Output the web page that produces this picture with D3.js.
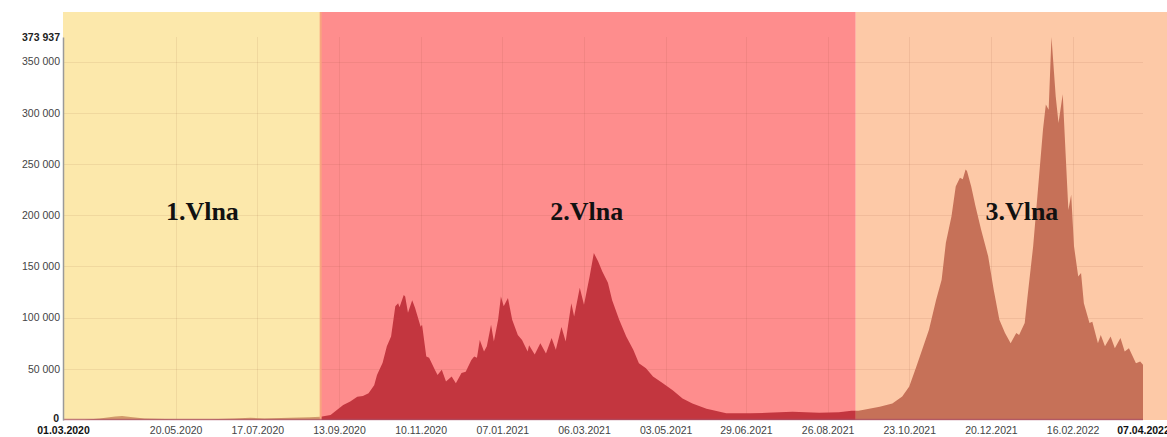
<!DOCTYPE html>
<html><head><meta charset="utf-8">
<script src="https://cdn.jsdelivr.net/npm/d3@7"></script>
<style>html,body{margin:0;padding:0;background:#fff;}svg{display:block;}</style>
</head><body><svg id="chart" width="1167" height="437"></svg>
<script>
// ---- data ----
const dates = [
"2020-03-01","2020-03-16","2020-03-27","2020-04-07","2020-04-12","2020-04-18","2020-04-28","2020-05-20","2020-06-13","2020-07-01","2020-07-12","2020-07-22","2020-08-09","2020-08-23","2020-08-31",
"2020-09-01","2020-09-07","2020-09-16","2020-09-21","2020-09-26","2020-09-30","2020-10-04","2020-10-08","2020-10-10","2020-10-14","2020-10-17","2020-10-20","2020-10-23","2020-10-25","2020-10-26","2020-10-29","2020-10-30","2020-11-01","2020-11-04","2020-11-06","2020-11-10","2020-11-11","2020-11-14","2020-11-16","2020-11-20","2020-11-22","2020-11-25","2020-11-28","2020-12-02","2020-12-05","2020-12-09","2020-12-12","2020-12-16","2020-12-18","2020-12-20","2020-12-22","2020-12-25","2020-12-27","2020-12-30",
"2021-01-01","2021-01-04","2021-01-06","2021-01-08","2021-01-11","2021-01-14","2021-01-18","2021-01-21","2021-01-25","2021-01-26","2021-01-30","2021-02-03","2021-02-07","2021-02-11","2021-02-14","2021-02-18","2021-02-21","2021-02-25","2021-02-27","2021-03-03","2021-03-06","2021-03-10","2021-03-13","2021-03-16","2021-03-19","2021-03-23","2021-03-26","2021-03-31","2021-04-05","2021-04-10","2021-04-14","2021-04-19","2021-04-24","2021-05-01","2021-05-08","2021-05-15","2021-05-22","2021-06-01","2021-06-05","2021-06-15","2021-07-02","2021-07-14","2021-08-01","2021-08-20","2021-09-03","2021-09-12","2021-09-17",
"2021-10-02","2021-10-11","2021-10-18","2021-10-23","2021-10-28","2021-11-02","2021-11-06","2021-11-11","2021-11-15","2021-11-18","2021-11-22","2021-11-25","2021-11-28","2021-11-30","2021-12-02","2021-12-03","2021-12-06","2021-12-09","2021-12-13","2021-12-18","2021-12-22","2021-12-26","2021-12-30",
"2022-01-03","2022-01-07","2022-01-09","2022-01-13","2022-01-15","2022-01-19","2022-01-22","2022-01-26","2022-01-28","2022-01-30","2022-02-01","2022-02-04","2022-02-06","2022-02-09","2022-02-11","2022-02-13","2022-02-15","2022-02-17","2022-02-20","2022-02-22","2022-02-24","2022-02-28","2022-03-02","2022-03-06","2022-03-08","2022-03-11","2022-03-15","2022-03-18","2022-03-22","2022-03-25","2022-03-28","2022-04-02","2022-04-05","2022-04-07"
];
const values = [
0,300,1500,3500,4000,3000,1500,800,700,1500,2200,1500,2200,2800,3200,
3500,5000,14700,18000,22800,23500,26000,34000,44000,56000,72000,81500,111000,114000,110000,122000,120600,104600,117000,109600,91000,93000,62000,60700,49400,44000,49000,37500,42400,36000,46000,47000,58700,62000,60700,78000,67000,72000,93000,
76600,98000,120600,111000,119000,98000,83000,78000,67000,73000,64000,75000,65000,80000,68500,90700,76600,114000,101000,129000,112500,140000,163000,155000,145000,134000,117000,98000,81500,68500,55500,50600,42400,36000,29000,21000,16000,11000,9800,6500,6500,7000,8000,7000,7500,9000,9000,
13000,16000,23000,32600,52000,72000,88000,117000,137000,173000,199000,228000,236500,235000,244600,243000,228000,209000,186000,160000,127000,98000,85000,
75000,85000,83000,94600,120600,169600,218500,283800,308000,303000,373937,316000,290000,318000,261000,205000,220000,169600,140000,143600,114000,94600,96000,75000,83000,72000,81500,70000,80000,67000,70000,55500,57000,54000
];
const xTicks = ["2020-05-20","2020-07-17","2020-09-13","2020-11-10","2021-01-07","2021-03-06","2021-05-03","2021-06-29","2021-08-26","2021-10-23","2021-12-20","2022-02-16"];
const xEnds = ["2020-03-01","2022-04-07"];
const yTicks = [50000,100000,150000,200000,250000,300000,350000];
const yMax = 373937;
const waveNames = ["1.Vlna","2.Vlna","3.Vlna"];
const waveStarts = ["2020-03-01","2020-08-31","2021-09-15"];
const waveEnds = ["2020-08-31","2021-09-15",null];
const waveLabelDates = ["2020-06-08","2021-03-08","2022-01-11"];
const waveLabelValue = 195000;
const waveBg = ["#FCE8AB","#FE8D8D","#FDC9A7"];
const waveArea = ["#D29A6A","#C3363F","#C67158"];

// ---- chart ----
const W = 1167, H = 437;
const parse = d3.utcParse("%Y-%m-%d");
const fmtDate = d3.utcFormat("%d.%m.%Y");
const loc = d3.formatLocale({decimal:",",thousands:" ",grouping:[3],currency:["",""]});
const fmtNum = loc.format(",");
const svg = d3.select("#chart");
const x = d3.scaleUtc().domain([parse(xEnds[0]), parse(xEnds[1])]).range([63, 1143]);
const y = d3.scaleLinear().domain([0, yMax]).range([420, 37]);
const data = dates.map((d,i)=>({date:parse(d), value:values[i]}));
const bandTop = 12;

// bands
const bands = waveNames.map((n,i)=>({
  name:n, x0:x(parse(waveStarts[i])), x1: waveEnds[i] ? x(parse(waveEnds[i])) : W,
  bg:waveBg[i], area:waveArea[i], lx:x(parse(waveLabelDates[i]))
}));
svg.append("g").selectAll("rect").data(bands).join("rect")
  .attr("x",d=>d.x0).attr("y",bandTop).attr("width",d=>d.x1-d.x0).attr("height",y(0)-bandTop)
  .attr("fill",d=>d.bg);

// gridlines
const grid = svg.append("g").attr("stroke","rgba(120,60,30,0.09)").attr("stroke-width",1);
grid.selectAll("line.h").data(yTicks).join("line").attr("class","h")
  .attr("x1",x.range()[0]).attr("x2",x.range()[1]).attr("y1",d=>Math.round(y(d))+0.5).attr("y2",d=>Math.round(y(d))+0.5);
grid.selectAll("line.v").data(xTicks).join("line").attr("class","v")
  .attr("x1",d=>Math.round(x(parse(d)))+0.5).attr("x2",d=>Math.round(x(parse(d)))+0.5).attr("y1",y(yMax)).attr("y2",y(0));

// area clipped per band
const area = d3.area().x(d=>x(d.date)).y0(y(0)).y1(d=>y(d.value)).curve(d3.curveLinear);
const defs = svg.append("defs");
bands.forEach((b,i)=>{
  defs.append("clipPath").attr("id","clip"+i).append("rect")
    .attr("x",b.x0).attr("y",0).attr("width",b.x1-b.x0).attr("height",H);
  svg.append("path").datum(data).attr("d",area).attr("fill",b.area).attr("clip-path",`url(#clip${i})`);
});

// band boundary stripe
svg.append("line").attr("x1",bands[1].x0).attr("x2",bands[1].x0).attr("y1",bandTop).attr("y2",y(0))
  .attr("stroke","#F8A47E").attr("stroke-width",2);

// baseline
svg.append("line").attr("x1",x.range()[0]).attr("x2",x.range()[1]).attr("y1",y(0)-0.5).attr("y2",y(0)-0.5)
  .attr("stroke","#A9506A").attr("stroke-opacity",0.7).attr("stroke-width",1.5);

// y axis
const yAxis = svg.append("g").attr("transform",`translate(${x.range()[0]},0)`)
  .call(d3.axisLeft(y).tickValues([0,...yTicks,yMax]).tickSize(0).tickPadding(3).tickFormat(fmtNum));
yAxis.select(".domain").attr("stroke","#9a9a9a").attr("stroke-width",1.5);
yAxis.selectAll("text").attr("font-family","'Liberation Sans',Arial,sans-serif").attr("font-size",10.5)
  .attr("fill",d=> (d===0||d===yMax)?"#222":"#444").attr("font-weight",d=>(d===0||d===yMax)?"bold":"normal");
yAxis.selectAll(".tick").filter(d=>d===0).select("text").attr("dy","0.1em").attr("x",-4);

// x axis
const xAxis = svg.append("g").attr("transform",`translate(0,${y(0)})`)
  .call(d3.axisBottom(x).tickValues([...xEnds,...xTicks].map(parse)).tickSize(0).tickPadding(7).tickFormat(fmtDate));
xAxis.select(".domain").remove();
const endSet = new Set(xEnds.map(d=>parse(d).getTime()));
xAxis.selectAll("text").attr("font-family","'Liberation Sans',Arial,sans-serif").attr("font-size",10.5)
  .attr("fill",d=>endSet.has(d.getTime())?"#111":"#444")
  .attr("font-weight",d=>endSet.has(d.getTime())?"bold":"normal");

// wave labels
svg.append("g").selectAll("text").data(bands).join("text")
  .attr("x",d=>d.lx).attr("y",y(waveLabelValue)).attr("text-anchor","middle")
  .attr("font-family","'Liberation Serif','Times New Roman',serif").attr("font-weight","bold")
  .attr("font-size",26).attr("fill","#111").text(d=>d.name);
</script></body></html>
